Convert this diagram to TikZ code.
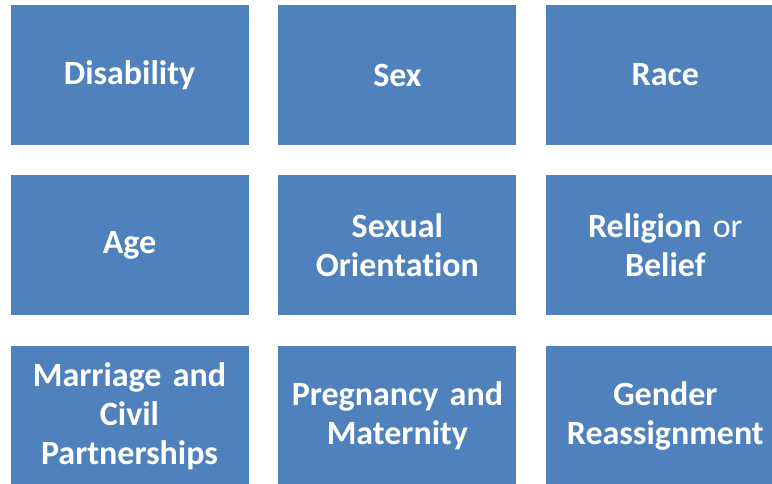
\documentclass[tikz,border=0pt]{standalone}
\usepackage{fontspec}
\setmainfont[RawFeature={-liga;-clig;-dlig;-calt}]{Carlito}
\usepackage{xcolor}
\usetikzlibrary{positioning}

\definecolor{tileblue}{RGB}{79,129,189}

\tikzset{
    tile/.style={rectangle, fill=tileblue, minimum width=238pt, minimum height=140pt,
        inner sep=0pt, text width=232pt, align=center, text=white,
        font=\fontsize{34}{39}\selectfont\bfseries},
}

\begin{document}
\begin{tikzpicture}[x=1pt, y=-1pt, node distance=30pt and 29.5pt]

    % --- PAGE FRAME ---
    \useasboundingbox (0,0) rectangle (772,483);
    \clip (0,0) rectangle (772,483);

    % --- TOP ROW ---
    \node[tile] (disability) at (129.5,75) {Disability};
    \node[tile, right=of disability] (sex) {Sex};
    \node[tile, right=of sex] (race) {Race};

    % --- MIDDLE ROW ---
    \node[tile, below=of disability] (age) {Age};
    \node[tile, below=of sex] (orientation) {Sexual\\Orientation};
    \node[tile, below=of race] (religion) {Religion \textmd{or}\\Belief};

    % --- BOTTOM ROW ---
    \node[tile, below=of age] (marriage) {Marriage and\\Civil\\Partnerships};
    \node[tile, below=of orientation] (pregnancy) {Pregnancy and\\Maternity};
    \node[tile, below=of religion] (gender) {Gender\\Reassignment};

\end{tikzpicture}
\end{document}
